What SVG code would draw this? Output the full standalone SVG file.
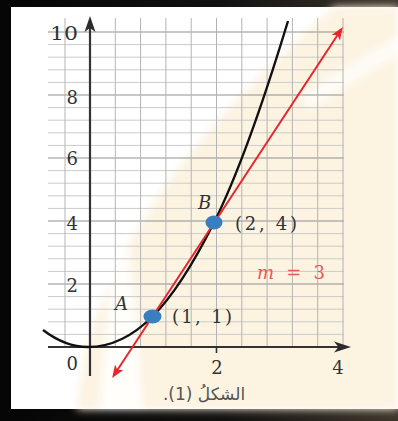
<svg xmlns="http://www.w3.org/2000/svg" width="398" height="421" viewBox="0 0 398 421">
  <defs>
    <linearGradient id="frameGrad" x1="0" y1="0" x2="1" y2="0">
      <stop offset="0" stop-color="#050505"/>
      <stop offset="0.55" stop-color="#121110"/>
      <stop offset="1" stop-color="#3e362b"/>
    </linearGradient>
    <filter id="soft" x="-10%" y="-10%" width="120%" height="120%">
      <feGaussianBlur stdDeviation="4"/>
    </filter>
    <marker id="redHead" viewBox="0 0 13 10" refX="10" refY="5" markerWidth="13" markerHeight="10" markerUnits="userSpaceOnUse" orient="auto-start-reverse">
      <path d="M0,0 L13,5 L0,10 L3.5,5 Z" fill="#e5262c"/>
    </marker>
    <style>
      .gmin { stroke: #cbcbcb; stroke-width: 1; }
      .gmaj { stroke: #8f8f8f; stroke-width: 1.1; }
      .gv { stroke: #b4b4b4; stroke-width: 1; }
      .axis { stroke: #333; stroke-width: 2.2; fill: none; }
      .num { font-family: "DejaVu Serif", "Liberation Serif", serif; font-size: 18px; fill: #333; }
      .lbl { font-family: "DejaVu Serif", "Liberation Serif", serif; font-size: 18px; font-style: italic; fill: #333; }
      .pt { fill: #3a7ec2; }
    </style>
  </defs>

  <!-- frame and background -->
  <g id="frame">
    <rect x="0" y="0" width="398" height="421" fill="url(#frameGrad)"/>
    <rect x="11" y="7" width="387" height="402" fill="#ffffff"/>
    <g filter="url(#soft)">
      <path d="M77,409 C88,300 140,175 335,7 L398,7 L398,409 Z" fill="#fcf3e1"/>
      <path d="M100,409 C104,330 110,270 124,215 C132,265 138,330 143,409 Z" fill="#ffffff" opacity="0.85"/>
      <path d="M300,95 L398,35 L398,55 L310,110 Z" fill="#ffffff" opacity="0.7"/>
    </g>
  </g>

  <!-- grid -->
  <g id="grid">
    <g class="gmin">
      <line x1="48" y1="334.4" x2="344" y2="334.4"/>
      <line x1="48" y1="321.8" x2="344" y2="321.8"/>
      <line x1="48" y1="309.2" x2="344" y2="309.2"/>
      <line x1="48" y1="296.6" x2="344" y2="296.6"/>
      <line x1="48" y1="271.4" x2="344" y2="271.4"/>
      <line x1="48" y1="258.8" x2="344" y2="258.8"/>
      <line x1="48" y1="246.2" x2="344" y2="246.2"/>
      <line x1="48" y1="233.6" x2="344" y2="233.6"/>
      <line x1="48" y1="208.4" x2="344" y2="208.4"/>
      <line x1="48" y1="195.8" x2="344" y2="195.8"/>
      <line x1="48" y1="183.2" x2="344" y2="183.2"/>
      <line x1="48" y1="170.6" x2="344" y2="170.6"/>
      <line x1="48" y1="145.4" x2="344" y2="145.4"/>
      <line x1="48" y1="132.8" x2="344" y2="132.8"/>
      <line x1="48" y1="120.2" x2="344" y2="120.2"/>
      <line x1="48" y1="107.6" x2="344" y2="107.6"/>
      <line x1="48" y1="82.4" x2="344" y2="82.4"/>
      <line x1="48" y1="69.8" x2="344" y2="69.8"/>
      <line x1="48" y1="57.2" x2="344" y2="57.2"/>
      <line x1="48" y1="44.6" x2="344" y2="44.6"/>
    </g>
    <g class="gmaj">
      <line x1="48" y1="284" x2="344" y2="284"/>
      <line x1="48" y1="221" x2="344" y2="221"/>
      <line x1="48" y1="158" x2="344" y2="158"/>
      <line x1="48" y1="95" x2="344" y2="95"/>
      <line x1="48" y1="32" x2="344" y2="32"/>
    </g>
    <g class="gv">
      <line x1="65" y1="18" x2="65" y2="347"/>
      <line x1="115.3" y1="18" x2="115.3" y2="347"/>
      <line x1="140.6" y1="18" x2="140.6" y2="347"/>
      <line x1="165.9" y1="18" x2="165.9" y2="347"/>
      <line x1="191.2" y1="18" x2="191.2" y2="347"/>
      <line x1="216.5" y1="18" x2="216.5" y2="347"/>
      <line x1="241.8" y1="18" x2="241.8" y2="347"/>
      <line x1="267.1" y1="18" x2="267.1" y2="347"/>
      <line x1="292.4" y1="18" x2="292.4" y2="347"/>
      <line x1="317.7" y1="18" x2="317.7" y2="347"/>
      <line x1="343" y1="18" x2="343" y2="347"/>
    </g>
  </g>

  <!-- axes -->
  <g id="axes">
    <line class="axis" x1="48" y1="347" x2="340" y2="347"/>
    <polygon points="351,347 334,341.5 338.5,347 334,352.5" fill="#2b2b2b"/>
    <line class="axis" x1="90" y1="376" x2="90" y2="26"/>
    <polygon points="90,16 84.5,32 90,28 95.5,32" fill="#2b2b2b"/>
    <line x1="216.5" y1="347" x2="216.5" y2="353" stroke="#333" stroke-width="1.6"/>
    <g class="num">
      <text x="78" y="39.5" text-anchor="end" textLength="28" lengthAdjust="spacingAndGlyphs">10</text>
      <text x="78" y="103.5" text-anchor="end">8</text>
      <text x="78" y="164.5" text-anchor="end">6</text>
      <text x="78" y="229.5" text-anchor="end">4</text>
      <text x="78" y="291.5" text-anchor="end">2</text>
      <text x="78" y="369.5" text-anchor="end">0</text>
      <text x="217" y="373.5" text-anchor="middle">2</text>
      <text x="338" y="373.5" text-anchor="middle">4</text>
    </g>
  </g>

  <!-- curve y = x^2 -->
  <g id="curve">
    <path d="M43,330 C58,341.4 73,347 88,347 C109.5,347 131,338 152.5,316.5 C173,296 193.5,263.5 214,222.5 C238.7,173.2 263.3,102.4 288,21" fill="none" stroke="#111" stroke-width="2.4"/>
  </g>

  <!-- connectors: secant line -->
  <g id="connectors">
    <line x1="113.8" y1="375.5" x2="341.2" y2="29.5" stroke="#e5262c" stroke-width="2" marker-start="url(#redHead)" marker-end="url(#redHead)"/>
  </g>

  <!-- points -->
  <g id="pointA">
    <ellipse class="pt" cx="152.5" cy="316.5" rx="9" ry="7"/>
    <text class="lbl" x="115" y="309.5">A</text>
    <text class="num" x="172" y="322.5" textLength="60" lengthAdjust="spacing">(1, 1)</text>
  </g>
  <g id="pointB">
    <ellipse class="pt" cx="214" cy="222.5" rx="8.5" ry="7"/>
    <text class="lbl" x="198" y="208.5">B</text>
    <text class="num" x="235" y="229.5" textLength="62" lengthAdjust="spacing">(2, 4)</text>
  </g>
  <g id="slope">
    <text x="257" y="279" font-family="DejaVu Serif, Liberation Serif, serif" font-size="18" fill="#e05a5a" textLength="68" lengthAdjust="spacing"><tspan font-style="italic">m</tspan> = 3</text>
  </g>

  <!-- caption -->
  <g id="caption">
    <text x="204" y="400" text-anchor="middle" direction="rtl" font-family="DejaVu Sans, Noto Sans, sans-serif" font-size="17" fill="#555">الشكلُ (1).</text>
  </g>
</svg>
